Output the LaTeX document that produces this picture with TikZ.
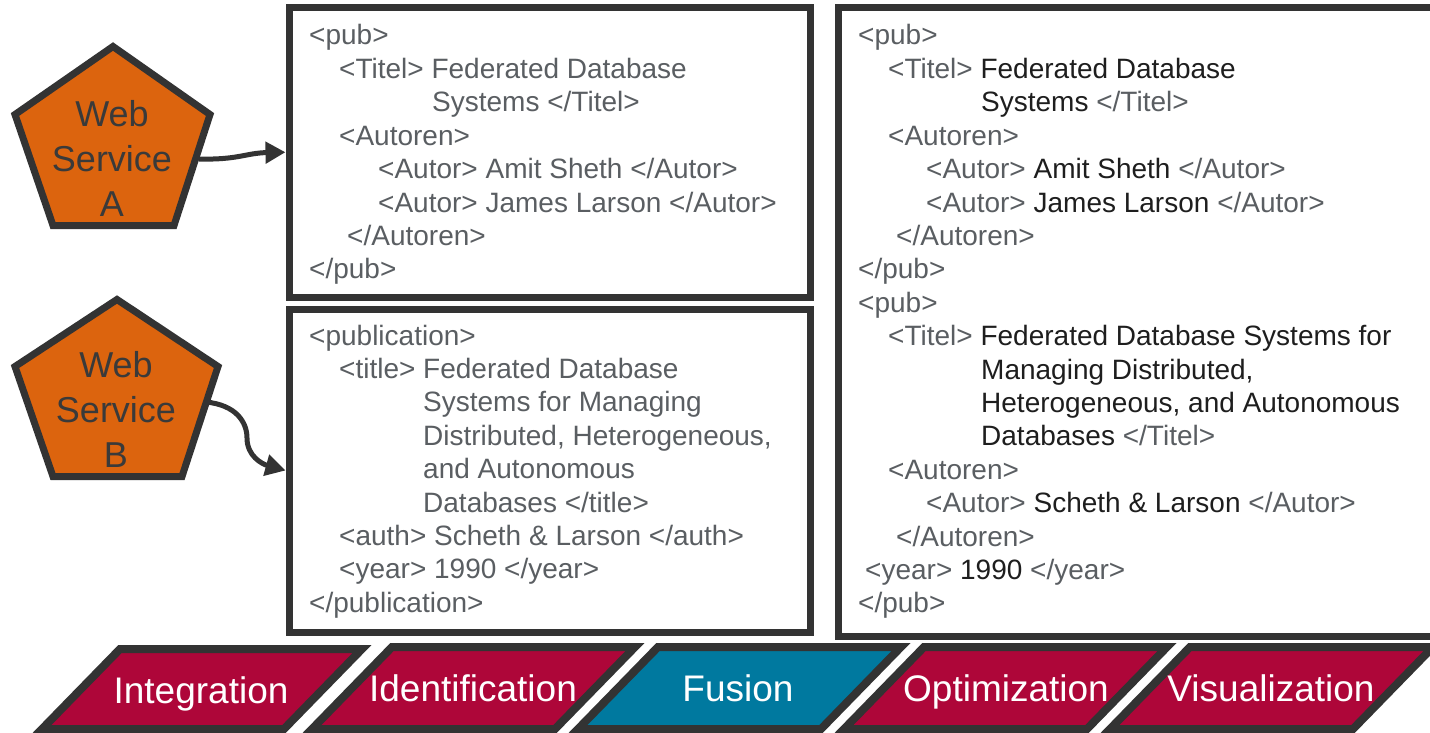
\documentclass[tikz,border=0pt]{standalone}
\usepackage{fontspec}
\setmainfont{Liberation Sans}
\usetikzlibrary{arrows.meta}
\definecolor{wsorange}{HTML}{DC640E}
\definecolor{edgec}{HTML}{333333}
\definecolor{crimson}{HTML}{AE0639}
\definecolor{tealc}{HTML}{00799F}
\definecolor{tagc}{HTML}{5A5E62}
\definecolor{valc}{HTML}{1E1E1E}
\definecolor{wstext}{HTML}{3A3A3A}
\newcommand{\valtxt}[1]{\textcolor{valc}{#1}}
\newcommand{\xline}[4]{\node[xml] (#1) at (#2,#3) {#4};}
\begin{document}
\begin{tikzpicture}[x=1pt,y=-1pt,
  xbox/.style={draw=edgec,line width=7pt,fill=white,inner sep=0pt,rectangle},
  xml/.style={anchor=base west,inner sep=0pt,font=\fontsize{28}{33.4}\selectfont,text=tagc},
  ws/.style={draw=edgec,line width=7pt,fill=wsorange,line join=miter},
  wstxt/.style={align=center,text=wstext,font=\fontsize{36}{45}\selectfont,inner sep=0pt},
  phase/.style={draw=edgec,line width=8pt,line join=miter},
  phtxt/.style={anchor=base,text=white,font=\fontsize{37}{44}\selectfont,inner sep=0pt},
  conn/.style={draw=edgec,line width=5pt,-{Triangle[length=20pt,width=21pt]}}
]
\clip (0,0) rectangle (1430,733);
\fill[white] (0,0) rectangle (1430,733);

% boxes
\node[xbox,minimum width=521pt,minimum height=289.5pt] (boxA) at (549.5,152.25) {};
\node[xbox,minimum width=521pt,minimum height=323pt] (boxB) at (549.5,470.5) {};
\node[xbox,minimum width=607pt,minimum height=628.5pt] (boxC) at (1141.5,321.75) {};

% box A text
\xline{a1}{309}{45}{<pub>}
\xline{a2}{339}{78.4}{<Titel> Federated Database}
\xline{a3}{432}{111.8}{Systems </Titel>}
\xline{a4}{339}{145.2}{<Autoren>}
\xline{a5}{378}{178.6}{<Autor> Amit Sheth </Autor>}
\xline{a6}{378}{212}{<Autor> James Larson </Autor>}
\xline{a7}{347}{245.4}{</Autoren>}
\xline{a8}{309}{278.8}{</pub>}

% box B text
\xline{b1}{309}{345}{<publication>}
\xline{b2}{339}{378.4}{<title> Federated Database}
\xline{b3}{423}{411.8}{Systems for Managing}
\xline{b4}{423}{445.2}{Distributed, Heterogeneous,}
\xline{b5}{423}{478.6}{and Autonomous}
\xline{b6}{423}{512}{Databases </title>}
\xline{b7}{339}{545.4}{<auth> Scheth \& Larson </auth>}
\xline{b8}{339}{578.8}{<year> 1990 </year>}
\xline{b9}{309}{612.2}{</publication>}

% right box text
\xline{c1}{858}{45}{<pub>}
\xline{c2}{888}{78.4}{<Titel> \valtxt{Federated Database}}
\xline{c3}{981}{111.8}{\valtxt{Systems} </Titel>}
\xline{c4}{888}{145.2}{<Autoren>}
\xline{c5}{926}{178.6}{<Autor> \valtxt{Amit Sheth} </Autor>}
\xline{c6}{926}{212}{<Autor> \valtxt{James Larson} </Autor>}
\xline{c7}{896}{245.4}{</Autoren>}
\xline{c8}{858}{278.8}{</pub>}
\xline{c9}{858}{312.2}{<pub>}
\xline{c10}{888}{345.6}{<Titel> \valtxt{Federated Database Systems for}}
\xline{c11}{981}{379}{\valtxt{Managing Distributed,}}
\xline{c12}{981}{412.4}{\valtxt{Heterogeneous, and Autonomous}}
\xline{c13}{981}{445.8}{\valtxt{Databases} </Titel>}
\xline{c14}{888}{479.2}{<Autoren>}
\xline{c15}{926}{512.6}{<Autor> \valtxt{Scheth \& Larson} </Autor>}
\xline{c16}{896}{546}{</Autoren>}
\xline{c17}{865}{579.4}{<year> \valtxt{1990} </year>}
\xline{c18}{858}{612.8}{</pub>}

% web services
\draw[ws] (113,46.5) -- (210,114.5) -- (174,225.5) -- (53,225.5) -- (15,114.5) -- cycle;
\node[wstxt] (wsA) at (112,158) {Web\\Service\\A};
\coordinate (wsAout) at (199,159);
\draw[ws] (117,299.5) -- (218,366.5) -- (182,476.5) -- (53,476.5) -- (15,366.5) -- cycle;
\node[wstxt] (wsB) at (116,409) {Web\\Service\\B};
\coordinate (wsBout) at (206,402);

% connectors
\draw[conn] (wsAout) .. controls (238,160) and (246,153) .. (boxA.west);
\draw[conn] (wsBout) .. controls (236,405) and (247,422) .. (247,438)
   .. controls (247,456) and (262,464) .. (boxB.west);

% phases
\draw[phase,fill=crimson] (120,649) -- (362,649) -- (284,729) -- (42,729) -- cycle;
\node[phtxt] (p1) at (201,703) {Integration};
\draw[phase,fill=crimson] (392,647) -- (635,647) -- (555,729) -- (312,729) -- cycle;
\node[phtxt] (p2) at (473,701) {Identification};
\draw[phase,fill=tealc] (658,647) -- (901,647) -- (821,729) -- (578,729) -- cycle;
\node[phtxt] (p3) at (738,701) {Fusion};
\draw[phase,fill=crimson] (924,647) -- (1167,647) -- (1087,729) -- (844,729) -- cycle;
\node[phtxt] (p4) at (1006,701) {Optimization};
\draw[phase,fill=crimson] (1190,647) -- (1433,647) -- (1353,729) -- (1110,729) -- cycle;
\node[phtxt] (p5) at (1271,701) {Visualization};
\end{tikzpicture}
\end{document}
